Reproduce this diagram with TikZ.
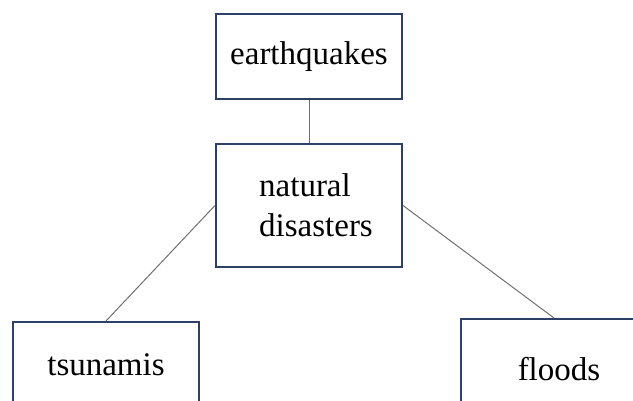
\documentclass[tikz,border=0pt]{standalone}
\usepackage{fontspec}
\setmainfont{Liberation Serif}
\definecolor{boxline}{RGB}{47,64,104}
\definecolor{linkline}{RGB}{112,112,112}
\begin{document}
\begin{tikzpicture}[x=0.5pt, y=-0.5pt,
		box/.style={draw=boxline, line width=1pt, rectangle, minimum width=93pt, inner sep=0pt, font=\fontsize{16.5}{20}\selectfont},
		link/.style={draw=linkline, line width=0.5pt}]
			\useasboundingbox (0,0) rectangle (633,401);
			\clip (0,0) rectangle (633,401);
			\node[box, minimum height=42.5pt] (earthquakes) at (309,56.5) {earthquakes};
			\node[box, minimum height=61.5pt, align=left] (disasters) at (309,205.5) {\hspace*{7pt}natural\\\hspace*{7pt}disasters};
			\node[box, minimum height=42.5pt] (tsunamis) at (106,364.5) {tsunamis};
			\node[box, minimum height=50pt] (floods) at (554,369) {\hspace*{5pt}floods};
			\draw[link] (earthquakes) -- (disasters);
			\draw[link] (disasters.west) -- (tsunamis.north);
			\draw[link] (disasters.east) -- (floods.north);
		\end{tikzpicture}
\end{document}
